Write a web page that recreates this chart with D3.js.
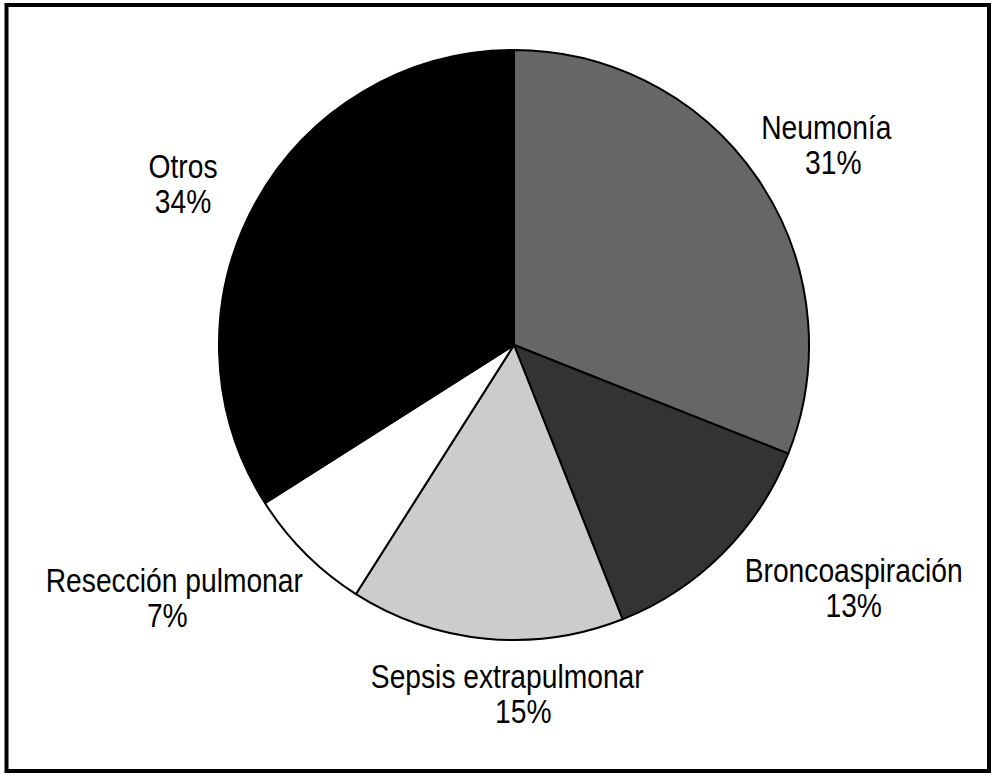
<!DOCTYPE html>
<html>
<head>
<meta charset="utf-8">
<script src="https://cdn.jsdelivr.net/npm/d3@7"></script>
<style>
  html, body { margin: 0; padding: 0; background: #fff; }
  svg { display: block; }
  text { font-family: "Liberation Sans", Arial, sans-serif; }
</style>
</head>
<body>
<svg id="chart" width="998" height="780"></svg>
<script>
// ---- data ----
const categories = ["Neumonía", "Broncoaspiración", "Sepsis extrapulmonar", "Resección pulmonar", "Otros"];
const values = [31, 13, 15, 7, 34];
const valueLabels = ["31%", "13%", "15%", "7%", "34%"];
const colors = ["#666666", "#333333", "#cccccc", "#ffffff", "#000000"];

// ---- layout ----
const W = 998, H = 780;
const cx = 514, cy = 345, R = 295;
const labelR = 380;
const condense = 0.83;
// per-label nudges (layout only)
const nudges = [
  {dx: -2, dy: 14, dx2: 7},
  {dx: 71, dy: -26, dx2: 0},
  {dx: 29, dy: -29, dx2: 16},
  {dx: -71, dy: -16, dx2: -7},
  {dx: 2, dy: 22, dx2: 0}
];

const svg = d3.select("#chart");

// frame
svg.append("rect")
  .attr("x", 6.5).attr("y", 5)
  .attr("width", 982.5).attr("height", 766)
  .attr("fill", "none").attr("stroke", "#000").attr("stroke-width", 4);

const data = categories.map((c, i) => ({name: c, value: values[i], label: valueLabels[i], color: colors[i], i}));

const pie = d3.pie().value(d => d.value).sort(null);
const arcs = pie(data);
const arc = d3.arc().innerRadius(0).outerRadius(R);
const labelArc = d3.arc().innerRadius(labelR).outerRadius(labelR);

const g = svg.append("g").attr("transform", `translate(${cx},${cy})`);

g.selectAll("path.slice")
  .data(arcs)
  .join("path")
  .attr("class", "slice")
  .attr("d", arc)
  .attr("fill", d => d.data.color)
  .attr("stroke", "#000")
  .attr("stroke-width", 2)
  .attr("stroke-linejoin", "round");

const labels = g.selectAll("g.label")
  .data(arcs)
  .join("g")
  .attr("class", "label")
  .attr("transform", d => {
    const [x, y] = labelArc.centroid(d);
    const n = nudges[d.data.i];
    return `translate(${x + n.dx},${y + n.dy}) scale(${condense},1)`;
  });

const txt = labels.append("text")
  .attr("text-anchor", "middle")
  .attr("font-size", 34)
  .attr("fill", "#000");

txt.append("tspan")
  .attr("x", 0)
  .attr("y", -6)
  .text(d => d.data.name);

txt.append("tspan")
  .attr("x", d => nudges[d.data.i].dx2 / condense)
  .attr("y", 29)
  .text(d => d.data.label);
</script>
</body>
</html>
